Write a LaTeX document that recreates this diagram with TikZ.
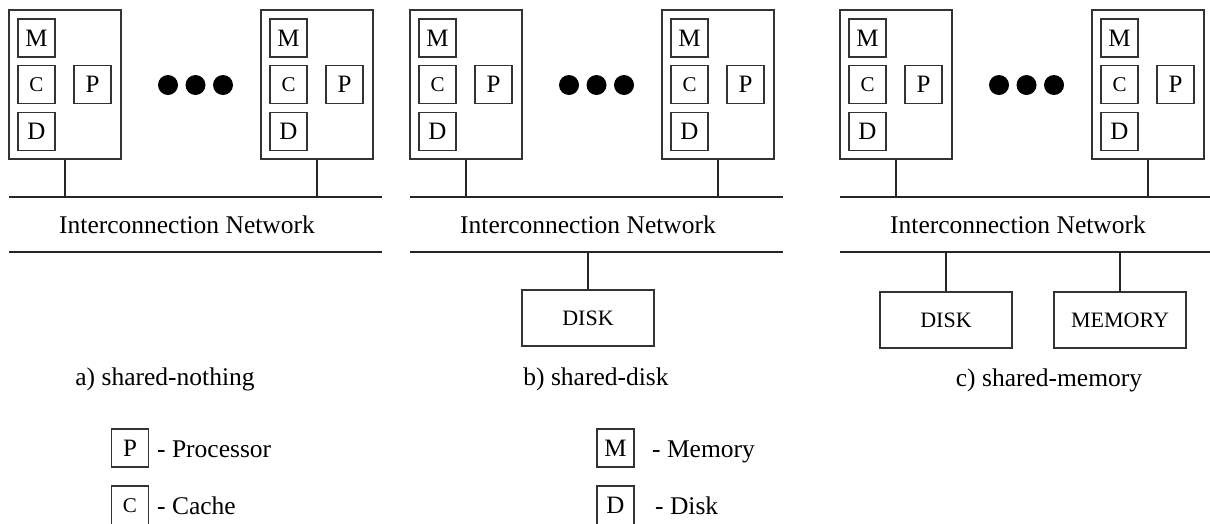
\documentclass[tikz,border=0pt]{standalone}
\usepackage{fontspec}
\setmainfont{Liberation Serif}
\begin{document}
\begin{tikzpicture}[x=1pt, y=-1pt,
  wire/.style={line width=1.1pt, draw=black!85},
  unit/.style={draw=black!80, line width=1.1pt, minimum width=37pt, minimum height=38pt,
    inner sep=0pt, font=\fontsize{25}{30}\selectfont},
  small unit/.style={unit, font=\fontsize{21}{26}\selectfont},
  nodebox/.style={draw=black!80, line width=1.1pt, minimum width=112pt, minimum height=149pt, inner sep=0pt},
  store/.style={draw=black!80, line width=1.1pt, minimum width=132pt, minimum height=56pt,
    inner sep=0pt, font=\fontsize{22}{26}\selectfont},
  caption/.style={font=\fontsize{25.5}{30}\selectfont, inner sep=0pt, anchor=base},
  legend/.style={font=\fontsize{25.5}{30}\selectfont, inner sep=0pt, anchor=base west},
  bullet/.style={circle, fill=black, minimum size=20pt, inner sep=0pt},
]
\useasboundingbox (0,0) rectangle (1210,523);

% three architectures, same processor/network layout
\foreach \p/\o in {a/0, b/401, c/831} {
  \begin{scope}[xshift=\o pt]
    % processing nodes
    \node[nodebox] (\p L) at (65,84.5) {};
    \node[nodebox] (\p R) at (317,84.5) {};
    \node[unit] (\p LM) at (36.5,38) {M};
    \node[small unit] (\p LC) at (36.5,84.5) {C};
    \node[unit] (\p LD) at (36.5,131.5) {D};
    \node[unit] (\p LP) at (92.5,84.5) {P};
    \node[unit] (\p RM) at (288.5,38) {M};
    \node[small unit] (\p RC) at (288.5,84.5) {C};
    \node[unit] (\p RD) at (288.5,131.5) {D};
    \node[unit] (\p RP) at (344.5,84.5) {P};
    % ellipsis
    \node[bullet] (\p d1) at (168,85) {};
    \node[bullet] (\p d2) at (195.5,85) {};
    \node[bullet] (\p d3) at (223,85) {};
    % interconnection network
    \coordinate (\p n1) at (9,197);
    \coordinate (\p n2) at (382,197);
    \coordinate (\p n3) at (9,252);
    \coordinate (\p n4) at (382,252);
    \draw[wire] (\p n1) -- (\p n2);
    \draw[wire] (\p n3) -- (\p n4);
    \node[caption] (\p net) at (187,233) {Interconnection Network};
    \draw[wire] (\p L.south) -- (\p L.south |- \p n1);
    \draw[wire] (\p R.south) -- (\p R.south |- \p n1);
  \end{scope}
}

% shared resources
\node[store] (bdisk) at (588,318) {DISK};
\draw[wire] (bdisk.north) -- (bdisk.north |- bn3);
\node[store] (cdisk) at (946,320) {DISK};
\node[store] (cmem) at (1120,320) {MEMORY};
\draw[wire] (cdisk.north) -- (cdisk.north |- cn3);
\draw[wire] (cmem.north) -- (cmem.north |- cn3);

% captions
\node[caption] (capa) at (165,385) {a) shared-nothing};
\node[caption] (capb) at (596,385) {b) shared-disk};
\node[caption] (capc) at (1049,386) {c) shared-memory};

% legend
\node[unit] (keyP) at (130,448) {P};
\node[legend] (txtP) at (157,457) {- Processor};
\node[small unit, minimum height=39pt] (keyC) at (130,505.5) {C};
\node[legend] (txtC) at (157,514) {- Cache};
\node[unit] (keyM) at (615.5,448) {M};
\node[legend] (txtM) at (652,457) {- Memory};
\node[unit, minimum height=39pt] (keyD) at (615.5,505.5) {D};
\node[legend] (txtD) at (655,514) {- Disk};
\end{tikzpicture}
\end{document}
